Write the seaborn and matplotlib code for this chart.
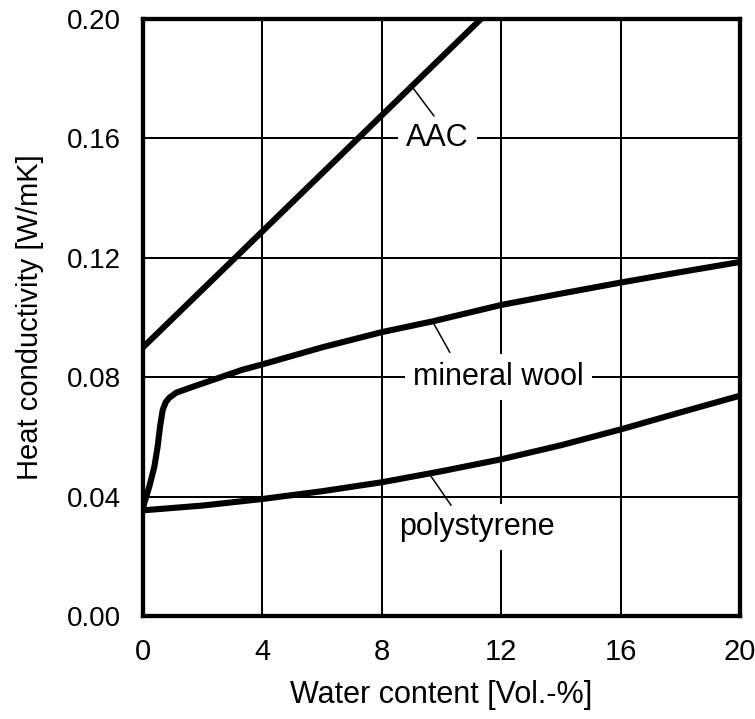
import matplotlib
matplotlib.use("Agg")
import matplotlib.pyplot as plt
import numpy as np
import pandas as pd
import seaborn as sns
from matplotlib.ticker import StrMethodFormatter

# values
aac_x = [0.0, 11.32]
aac_y = [0.090, 0.200]

wool_x = [0.0, 0.04, 0.21, 0.38, 0.49, 0.57, 0.66, 0.76, 0.88, 1.11, 1.67, 2.4,
          3.3, 4.0, 6.0, 8.0, 9.7, 12.0, 14.0, 16.0, 18.0, 20.0]
wool_y = [0.036, 0.0378, 0.0433, 0.050, 0.0567, 0.0634, 0.069, 0.0716, 0.0731,
          0.0748, 0.0768, 0.0793, 0.0824, 0.0843, 0.090, 0.0951, 0.0987, 0.1042,
          0.108, 0.1117, 0.1152, 0.1186]

poly_x = [0.0, 2.0, 4.0, 6.0, 8.0, 10.0, 12.0, 14.0, 16.0, 18.0, 20.0]
poly_y = [0.0354, 0.037, 0.0392, 0.0418, 0.0448, 0.0485, 0.0525, 0.0572,
          0.0625, 0.0682, 0.0738]

x_ticks = [0, 4, 8, 12, 16, 20]
y_ticks = [0.00, 0.04, 0.08, 0.12, 0.16, 0.20]

# label text, label centre, leader line (curve point -> end)
labels = [
    ("AAC", (9.87, 0.160), (9.0, 0.1775), (9.75, 0.1675)),
    ("mineral wool", (11.9, 0.080), (9.71, 0.0985), (10.28, 0.0883)),
    ("polystyrene", (11.2, 0.0298), (9.65, 0.0468), (10.32, 0.0371)),
]

sns.set_style("white")
plt.rcParams["font.family"] = ["Liberation Sans", "DejaVu Sans"]
plt.rcParams["text.color"] = "black"
plt.rcParams["axes.labelcolor"] = "black"
plt.rcParams["xtick.color"] = "black"
plt.rcParams["ytick.color"] = "black"

df = pd.concat([
    pd.DataFrame({"x": aac_x, "y": aac_y, "material": "AAC"}),
    pd.DataFrame({"x": wool_x, "y": wool_y, "material": "mineral wool"}),
    pd.DataFrame({"x": poly_x, "y": poly_y, "material": "polystyrene"}),
])

fig = plt.figure(figsize=(7.55, 7.19), dpi=100)
ax = fig.add_axes([143 / 755, 1 - 616 / 719, 597 / 755, 597 / 719])

for name, grp in df.groupby("material"):
    sns.lineplot(data=grp, x="x", y="y", ax=ax, color="black", lw=4.4,
                 sort=False, legend=False, zorder=3)

ax.set_xlim(0, 20)
ax.set_ylim(0, 0.2)
ax.set_xticks(x_ticks)
ax.set_yticks(y_ticks)
ax.yaxis.set_major_formatter(StrMethodFormatter("{x:.2f}"))
ax.grid(True, color="black", lw=1.45)
ax.set_axisbelow(True)
ax.tick_params(length=0, labelsize=20)
ax.tick_params(axis="x", pad=16, labelsize=21)
ax.tick_params(axis="y", pad=16)
for sp in ax.spines.values():
    sp.set_color("black")
    sp.set_linewidth(3.1)
    sp.set_zorder(5)

ax.set_xlabel("Water content [Vol.-%]", fontsize=22, labelpad=10)
ax.set_ylabel("Heat conductivity [W/mK]", fontsize=21, labelpad=16)

for text, (tx, ty), p0, p1 in labels:
    ax.text(tx, ty, text, fontsize=22, ha="center", va="center", zorder=2,
            bbox=dict(facecolor="white", edgecolor="none", pad=6))
    ax.annotate("", xy=p0, xytext=p1,
                arrowprops=dict(arrowstyle="-", color="black", lw=1.1,
                                shrinkA=0, shrinkB=0), zorder=4)

fig.savefig("out.png", dpi=100)
